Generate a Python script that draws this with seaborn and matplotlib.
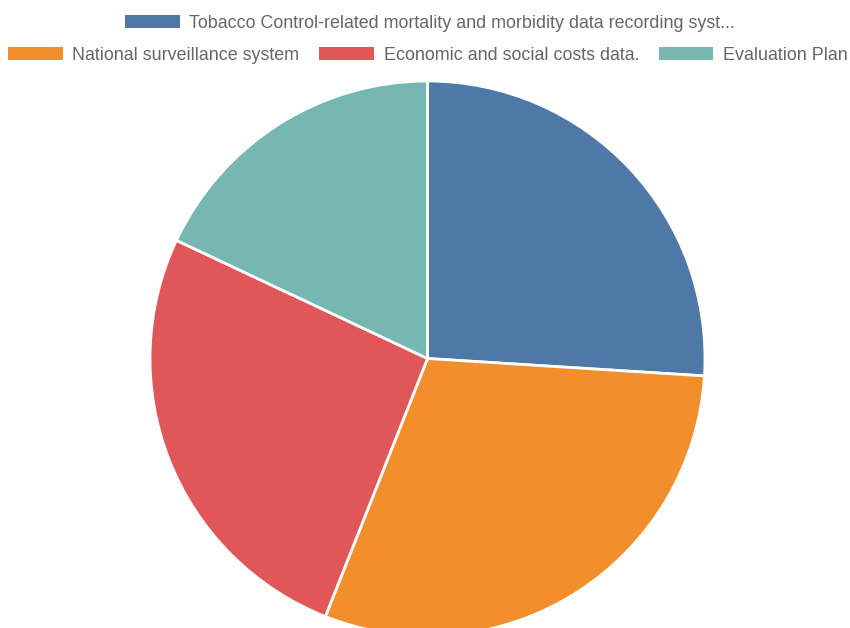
import matplotlib
matplotlib.use("Agg")
import matplotlib.pyplot as plt
import seaborn as sns
from matplotlib.patches import Patch

sns.set_theme(style="white")
plt.rcParams["font.family"] = ["Liberation Sans", "DejaVu Sans"]

categories = [
    "Tobacco Control-related mortality and morbidity data recording syst...",
    "National surveillance system",
    "Economic and social costs data.",
    "Evaluation Plan",
]
values = [26, 30, 26, 18]
colors = ["#4e79a7", "#f28e2b", "#e15759", "#76b7b2"]

fig = plt.figure(figsize=(8.5, 6.28), dpi=100)
W, H = 850, 628
cx, cy, r = 427.5, 358.5, 277.5
ax = fig.add_axes([(cx - r) / W, (H - cy - r) / H, 2 * r / W, 2 * r / H])

ax.pie(
    values,
    colors=colors,
    startangle=90,
    counterclock=False,
    radius=1.0,
    wedgeprops=dict(edgecolor="white", linewidth=2),
)
ax.set_xlim(-1, 1)
ax.set_ylim(-1, 1)
ax.set_aspect("equal")
ax.axis("off")

handles = [Patch(facecolor=c, edgecolor="none") for c in colors]
common = dict(
    frameon=False,
    fontsize=12.9,
    labelcolor="#666666",
    handlelength=3.05,
    handleheight=0.74,
    handletextpad=0.55,
    columnspacing=1.1,
    borderpad=0,
    borderaxespad=0,
)
fig.legend(handles[:1], categories[:1], loc="center", ncol=1,
           bbox_to_anchor=(430 / W, 1 - 23.5 / H), **common)
fig.legend(handles[1:], categories[1:], loc="center", ncol=3,
           bbox_to_anchor=(428 / W, 1 - 55.5 / H), **common)

fig.savefig("out.png", dpi=100)
